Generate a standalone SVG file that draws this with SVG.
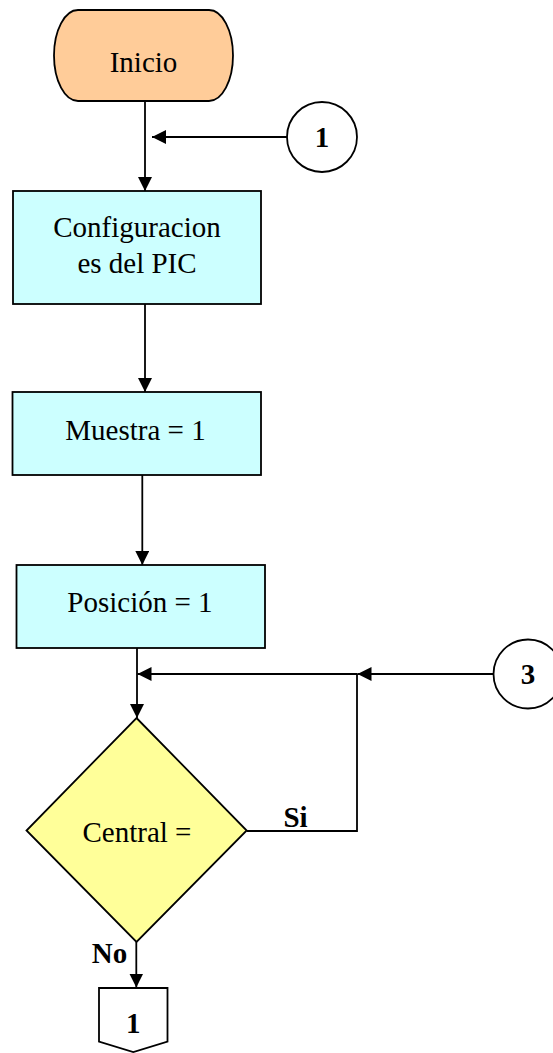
<svg xmlns="http://www.w3.org/2000/svg" width="553" height="1053" viewBox="0 0 553 1053">
<style>
  .shape { stroke: #000; stroke-width: 1.8; }
  .line { stroke: #000; stroke-width: 1.8; fill: none; }
  .t { font-family: "Liberation Serif", "Times New Roman", serif; font-size: 29px; fill: #000; text-anchor: middle; }
  .b { font-weight: bold; }
</style>
<defs>
  <marker id="arrow" markerUnits="userSpaceOnUse" markerWidth="14" markerHeight="14" refX="14" refY="7" orient="auto">
    <path d="M0,0 L14,7 L0,14 z" fill="#000"/>
  </marker>
</defs>
<rect width="553" height="1053" fill="#fff"/>

<g id="connectors">
  <line class="line" x1="145" y1="101" x2="145" y2="191" marker-end="url(#arrow)"/>
  <line class="line" x1="287" y1="137" x2="152" y2="137" marker-end="url(#arrow)"/>
  <line class="line" x1="145" y1="304" x2="145" y2="392" marker-end="url(#arrow)"/>
  <line class="line" x1="142.3" y1="475" x2="142.3" y2="565" marker-end="url(#arrow)"/>
  <line class="line" x1="137" y1="648" x2="137" y2="718" marker-end="url(#arrow)"/>
  <line class="line" x1="493.5" y1="674" x2="357.5" y2="674" marker-end="url(#arrow)"/>
  <line class="line" x1="357.5" y1="674" x2="137.5" y2="674" marker-end="url(#arrow)"/>
  <polyline class="line" points="246.7,831 357,831 357,674"/>
  <line class="line" x1="136.3" y1="942" x2="136.3" y2="987.5" marker-end="url(#arrow)"/>
  <text class="t b" x="295.5" y="827">Si</text>
  <text class="t b" x="109.5" y="963">No</text>
</g>

<g id="inicio">
  <rect class="shape" x="54" y="10" width="179" height="91" rx="24" ry="45.5" fill="#FFCC99"/>
  <text class="t" x="143.5" y="72">Inicio</text>
</g>

<g id="conector1">
  <circle class="shape" cx="322" cy="137" r="35" fill="#fff"/>
  <text class="t b" x="322" y="147">1</text>
</g>

<g id="configuraciones">
  <rect class="shape" x="13" y="191" width="248" height="113" fill="#CCFFFF"/>
  <text class="t" x="137" y="237">Configuracion</text>
  <text class="t" x="137" y="273">es del PIC</text>
</g>

<g id="muestra">
  <rect class="shape" x="12.5" y="392" width="248.5" height="83" fill="#CCFFFF"/>
  <text class="t" x="135.5" y="440">Muestra = 1</text>
</g>

<g id="posicion">
  <rect class="shape" x="16.5" y="565" width="248.5" height="83" fill="#CCFFFF"/>
  <text class="t" x="140" y="612">Posición = 1</text>
</g>

<g id="conector3">
  <circle class="shape" cx="528" cy="674" r="34.5" fill="#fff"/>
  <text class="t b" x="528" y="684">3</text>
</g>

<g id="central">
  <polygon class="shape" points="136.5,718 246.7,830.5 136.5,942 26.5,830.5" fill="#FFFF99"/>
  <text class="t" x="137" y="842">Central =</text>
</g>

<g id="salida1">
  <polygon class="shape" points="99,988 167.5,988 167.5,1041.5 133.3,1052 99,1041.5" fill="#fff"/>
  <text class="t b" x="133.3" y="1033">1</text>
</g>
</svg>
